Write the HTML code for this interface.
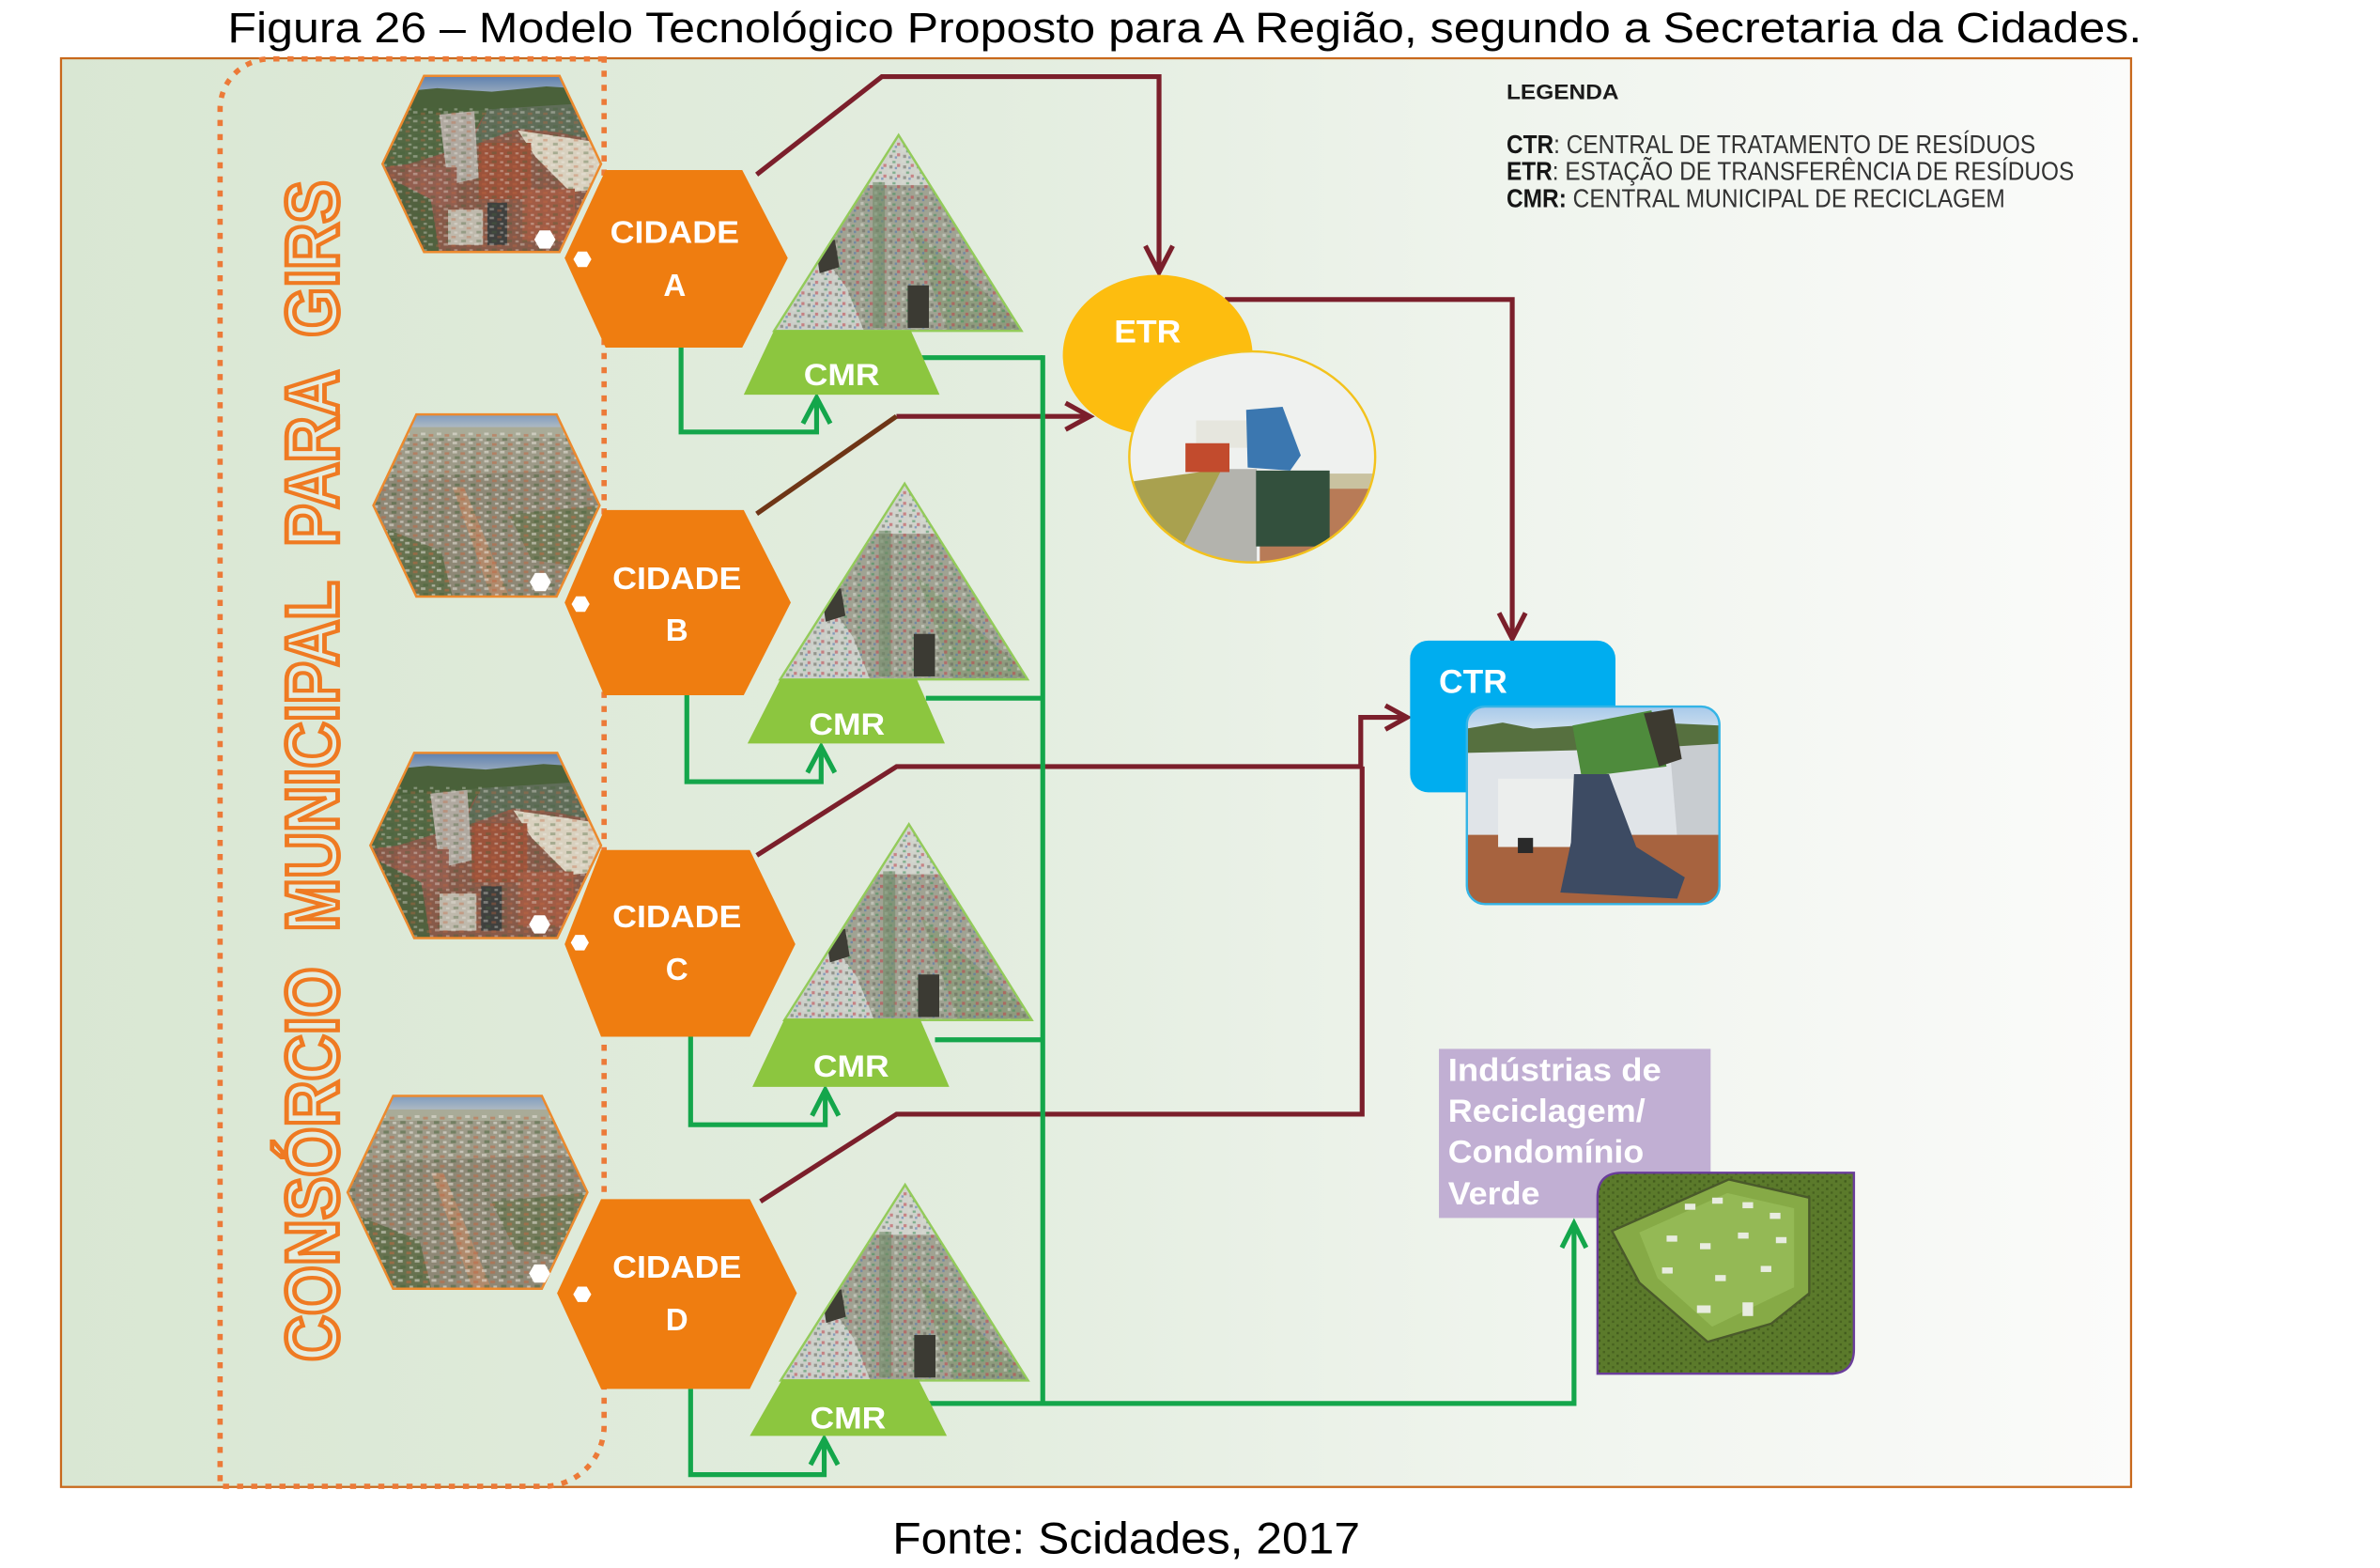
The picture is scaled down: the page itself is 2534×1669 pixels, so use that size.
<!DOCTYPE html>
<html>
<head>
<meta charset="utf-8">
<style>
html,body{margin:0;padding:0;background:#fff;width:2534px;height:1669px;overflow:hidden}
svg{display:block}
</style>
</head>
<body>
<svg xmlns="http://www.w3.org/2000/svg" width="2534" height="1669" viewBox="0 0 1568 1033" preserveAspectRatio="none" font-family="Liberation Sans, Arial, sans-serif">
<defs>
  <linearGradient id="bgg" x1="0" y1="0" x2="1" y2="0">
    <stop offset="0" stop-color="#d9e7d3"/>
    <stop offset="0.45" stop-color="#e3eddf"/>
    <stop offset="0.7" stop-color="#eff4ed"/>
    <stop offset="1" stop-color="#fbfbfa"/>
  </linearGradient>
  <linearGradient id="sky1" x1="0" y1="0" x2="0" y2="1">
    <stop offset="0" stop-color="#5d80b0"/><stop offset="1" stop-color="#a7b4bf"/>
  </linearGradient>
  <linearGradient id="sky2" x1="0" y1="0" x2="0" y2="1">
    <stop offset="0" stop-color="#7f9cc0"/><stop offset="1" stop-color="#b3bcc2"/>
  </linearGradient>
  <linearGradient id="skyc" x1="0" y1="0" x2="0" y2="1">
    <stop offset="0" stop-color="#a6c8ea"/><stop offset="1" stop-color="#d3e3ef"/>
  </linearGradient>
  <pattern id="spkC" width="7" height="5" patternUnits="userSpaceOnUse">
    <rect x="0" y="0" width="2" height="1.4" fill="#eeebe4"/>
    <rect x="3.5" y="0.8" width="2" height="1.4" fill="#c4663f"/>
    <rect x="1" y="3" width="2.2" height="1.5" fill="#46633a"/>
    <rect x="4.8" y="3.4" width="1.5" height="1.2" fill="#f2f0ea"/>
  </pattern>
  <pattern id="spkP" width="9" height="7" patternUnits="userSpaceOnUse">
    <rect x="0" y="0" width="2" height="2" fill="#d8dbd2"/>
    <rect x="3" y="1" width="2" height="1.5" fill="#3f8f5a"/>
    <rect x="6" y="3" width="2" height="2" fill="#c0404a"/>
    <rect x="1" y="4" width="2" height="2" fill="#66665b"/>
    <rect x="4.5" y="5" width="1.5" height="1.5" fill="#4a70b0"/>
  </pattern>
  <pattern id="spkG" width="6" height="5" patternUnits="userSpaceOnUse">
    <rect x="0" y="0" width="1.5" height="1.5" fill="#3b5219"/>
    <rect x="3" y="2.5" width="1.5" height="1.5" fill="#314814"/>
  </pattern>
  <clipPath id="hexc"><polygon points="19,0 81,0 100,50 81,100 19,100 0,50"/></clipPath>
  <clipPath id="triC"><polygon points="592,89 510,218 673,218"/></clipPath>
  <clipPath id="etrC"><ellipse cx="825" cy="301" rx="81" ry="69.5"/></clipPath>
  <clipPath id="ctrC"><rect x="966.4" y="465.5" width="166.4" height="130.1" rx="12"/></clipPath>
  <clipPath id="indC"><path d="M1068.5,772.6 H1221.4 V889 Q1221.4,905 1205.4,905 H1052.5 V788.6 Q1052.5,772.6 1068.5,772.6 Z"/></clipPath>

  <g id="city1">
    <g clip-path="url(#hexc)">
      <rect width="100" height="100" fill="#875a49"/>
      <rect width="100" height="12" fill="url(#sky1)"/>
      <polygon points="0,10 25,7 50,9 75,6 100,8 100,20 60,22 0,26" fill="#4a613a"/>
      <polygon points="0,24 48,19 38,40 12,50 0,52" fill="#536843"/>
      <polygon points="48,19 100,15 100,37 80,32 62,30 40,40" fill="#5f6d58"/>
      <polygon points="62,31 100,38 100,64 86,66 70,46" fill="#d9d1bf"/>
      <polygon points="26,22 42,20 44,58 30,62" fill="#b0a9a0"/>
      <rect x="44" y="38" width="24" height="32" fill="#9c533b"/>
      <rect x="12" y="52" width="22" height="22" fill="#935f50"/>
      <polygon points="0,56 22,70 26,100 0,100" fill="#52613f"/>
      <rect x="48" y="72" width="9" height="24" fill="#3f403e"/>
      <rect x="64" y="64" width="24" height="30" fill="#a25c45"/>
      <rect x="30" y="76" width="16" height="20" fill="#bfb9ac"/>
      <rect y="18" width="100" height="82" fill="url(#spkC)" opacity="0.35"/>
    </g>
    <polygon points="19,0 81,0 100,50 81,100 19,100 0,50" fill="none" stroke="#ec8a2e" stroke-width="2.5" vector-effect="non-scaling-stroke"/>
  </g>
  <g id="city2">
    <g clip-path="url(#hexc)">
      <rect width="100" height="100" fill="#8e8876"/>
      <rect width="100" height="8" fill="url(#sky2)"/>
      <rect y="7" width="100" height="6" fill="#a9ab98"/>
      <polygon points="0,13 100,13 100,30 0,35" fill="#9d9a88"/>
      <polygon points="0,60 30,75 35,100 0,100" fill="#66724f"/>
      <polygon points="60,55 100,50 100,85 70,80" fill="#747b5a"/>
      <polygon points="35,40 40,40 60,100 52,100" fill="#b08a6c"/>
      <rect y="10" width="100" height="90" fill="url(#spkC)" opacity="0.5"/>
    </g>
    <polygon points="19,0 81,0 100,50 81,100 19,100 0,50" fill="none" stroke="#ec8a2e" stroke-width="2.5" vector-effect="non-scaling-stroke"/>
  </g>
  <g id="pyr">
    <g clip-path="url(#triC)">
      <rect x="505" y="85" width="175" height="140" fill="#a0a393"/>
      <polygon points="592,89 612,122 572,122" fill="#d0d3cc"/>
      <polygon points="505,225 540,165 558,190 572,225" fill="#cbcfc9"/>
      <polygon points="600,150 680,220 625,220" fill="#8e9c7e"/>
      <rect x="505" y="85" width="175" height="140" fill="url(#spkP)" opacity="0.55"/>
      <polygon points="537,160 550,158 553,176 540,180" fill="#3e3d35"/>
      <rect x="598" y="188" width="14" height="28" fill="#3b3a33"/>
      <rect x="575" y="120" width="8" height="96" fill="#6f8a68" opacity="0.6"/>
    </g>
    <polygon points="592,89 510,218 673,218" fill="none" stroke="#93cb5a" stroke-width="1.5"/>
  </g>
  <polygon id="sh" points="-3.5,-6 3.5,-6 7,0 3.5,6 -3.5,6 -7,0" fill="#ffffff"/>
</defs>

<rect width="1568" height="1033" fill="#ffffff"/>

<!-- frame -->
<rect x="40.2" y="38.4" width="1363.8" height="941.2" fill="url(#bgg)" stroke="#c8691c" stroke-width="1.4"/>

<!-- dotted consortium box -->
<path d="M398,38.8 L178,38.8 A33,33 0 0 0 145,71.8 L145,979.2 L358,979.2 A40,40 0 0 0 398,939.2 Z" fill="none" stroke="#ec7a38" stroke-width="3.5" stroke-dasharray="4 5.3"/>

<!-- vertical text -->
<text transform="translate(222.5,508) rotate(-90)" text-anchor="middle" font-size="49" font-weight="bold" fill="#e4ede0" stroke="#ef7a22" stroke-width="3" textLength="778" lengthAdjust="spacingAndGlyphs" style="white-space:pre">CONSÓRCIO  MUNICIPAL  PARA  GIRS</text>

<!-- city photos -->
<use href="#city1" transform="translate(252,50) scale(1.44,1.16)"/>
<use href="#city2" transform="translate(246,273) scale(1.49,1.20)"/>
<use href="#city1" transform="translate(244,496) scale(1.52,1.22)"/>
<use href="#city2" transform="translate(229,722) scale(1.58,1.27)"/>

<!-- red/brown connectors -->
<g fill="none" stroke="#7b1f2b" stroke-width="3.2" stroke-linejoin="miter">
  <path d="M498.5,115 L581,50.5 H763.6 V177"/>
  <path d="M754.6,162 L763.6,179.4 L772.6,162"/>
  <path d="M590.6,274.3 H716"/>
  <path d="M702,265.5 L718,274.3 L702,283"/>
  <path d="M498.6,563.5 L590.7,505 H896.5 V472.6 H925"/>
  <path d="M912.7,464.8 L927,472.6 L912.7,480.5"/>
  <path d="M501,791.5 L590.7,734 H897.4 V505"/>
  <path d="M807,197.3 H996.3 V419"/>
  <path d="M987.6,403.8 L996.3,420.8 L1005,403.8"/>
</g>
<path d="M498.5,338.5 L590.6,274.3" fill="none" stroke="#6e3516" stroke-width="3.2"/>

<!-- cidade hexes -->
<g fill="#ef7d10">
  <polygon points="399,112 489,112 519,170 489,229 399,229 372,170"/>
  <polygon points="398,336 490,336 521,397 490,458 398,458 372,397"/>
  <polygon points="396,560 494,560 524,622 494,683 396,683 372,622"/>
  <polygon points="396,790 494,790 525,852 494,915 396,915 367,852"/>
</g>
<g fill="#ffffff" font-weight="bold" font-size="20.5" text-anchor="middle">
  <text x="444.5" y="160" textLength="85" lengthAdjust="spacingAndGlyphs">CIDADE</text>
  <text x="444.5" y="195">A</text>
  <text x="446" y="388" textLength="85" lengthAdjust="spacingAndGlyphs">CIDADE</text>
  <text x="446" y="422">B</text>
  <text x="446" y="611" textLength="85" lengthAdjust="spacingAndGlyphs">CIDADE</text>
  <text x="446" y="645.6">C</text>
  <text x="446" y="841.8" textLength="85" lengthAdjust="spacingAndGlyphs">CIDADE</text>
  <text x="446" y="876.4">D</text>
</g>

<!-- small white hexes -->
<use href="#sh" transform="translate(359,157.8)"/>
<use href="#sh" transform="translate(383.7,170.8) scale(0.85)"/>
<use href="#sh" transform="translate(356,383.5)"/>
<use href="#sh" transform="translate(382.5,398) scale(0.85)"/>
<use href="#sh" transform="translate(355.5,609)"/>
<use href="#sh" transform="translate(382,621) scale(0.85)"/>
<use href="#sh" transform="translate(355.5,839)"/>
<use href="#sh" transform="translate(383.6,852.7) scale(0.85)"/>

<!-- pyramids -->
<use href="#pyr"/>
<use href="#pyr" transform="translate(4,229.6)"/>
<use href="#pyr" transform="translate(6.8,454)"/>
<use href="#pyr" transform="translate(4.3,691.5)"/>

<!-- green connectors -->
<g fill="none" stroke="#14a64b" stroke-width="3.2" stroke-linejoin="miter">
  <path d="M448.7,229 V284.6 H538 V264"/>
  <path d="M529,279 L538,262 L547,279"/>
  <path d="M452.5,458 V515 H541 V494"/>
  <path d="M532,509 L541,492 L550,509"/>
  <path d="M455,683 V741 H543.7 V720"/>
  <path d="M535,735 L543.7,718 L552.5,735"/>
  <path d="M455,915 V971.5 H543 V950"/>
  <path d="M534,965 L543,948 L552,965"/>
  <path d="M603,235.6 H687"/>
  <path d="M610,460 H687"/>
  <path d="M616,685 H687"/>
  <path d="M612,924.6 H1037 V809"/>
  <path d="M1029,822 L1037,806 L1045,822"/>
  <path d="M687,234 V926"/>
</g>

<!-- CMR trapezoids -->
<g fill="#8cc63f">
  <polygon points="510,217.6 600,217.6 619,260 490,260"/>
  <polygon points="514,447.6 604,447.6 622.5,489.8 492.5,489.8"/>
  <polygon points="517,671 606,671 625.4,716 495.7,716"/>
  <polygon points="515.4,908.7 605,908.7 623.8,946 494,946"/>
</g>
<g fill="#ffffff" font-weight="bold" font-size="20" text-anchor="middle">
  <text x="554.5" y="253.7" textLength="50" lengthAdjust="spacingAndGlyphs">CMR</text>
  <text x="558" y="484" textLength="50" lengthAdjust="spacingAndGlyphs">CMR</text>
  <text x="560.8" y="709.4" textLength="50" lengthAdjust="spacingAndGlyphs">CMR</text>
  <text x="558.7" y="941" textLength="50" lengthAdjust="spacingAndGlyphs">CMR</text>
</g>

<!-- ETR -->
<ellipse cx="762.7" cy="234" rx="62.5" ry="53" fill="#fdbd0f"/>
<text x="756" y="225.7" fill="#ffffff" font-weight="bold" font-size="21" text-anchor="middle" textLength="44" lengthAdjust="spacingAndGlyphs">ETR</text>
<g clip-path="url(#etrC)">
  <rect x="740" y="228" width="170" height="146" fill="#eff1ef"/>
  <rect x="830" y="312" width="80" height="14" fill="#c9c2a0"/>
  <rect x="830" y="322" width="80" height="52" fill="#b87b57"/>
  <polygon points="740,318 805,309 775,374 740,374" fill="#a9a14f"/>
  <polygon points="805,309 828,309 828,374 772,374" fill="#b3b3ad"/>
  <rect x="827.5" y="310" width="48.5" height="50" fill="#33503d"/>
  <rect x="788" y="277" width="35" height="18" fill="#e6e6de"/>
  <polygon points="821,270 845,268 857,300 850,310 822,308" fill="#3b77b0"/>
  <rect x="781" y="292" width="29" height="19" fill="#c24b2d"/>
</g>
<ellipse cx="825" cy="301" rx="81" ry="69.5" fill="none" stroke="#f3c21c" stroke-width="1.5"/>

<!-- CTR -->
<rect x="929" y="422" width="135.3" height="100" rx="12" fill="#00adef"/>
<text x="948" y="456.4" fill="#ffffff" font-weight="bold" font-size="22" textLength="45" lengthAdjust="spacingAndGlyphs">CTR</text>
<g clip-path="url(#ctrC)">
  <rect x="966" y="465" width="168" height="131" fill="#e0e4e8"/>
  <rect x="966" y="465" width="168" height="18" fill="url(#skyc)"/>
  <polygon points="966,480 990,476 1010,480 1040,478 1060,482 1090,476 1133,478 1133,492 966,496" fill="#56703f"/>
  <polygon points="1100,492 1133,490 1133,555 1105,552" fill="#c8ccd0"/>
  <rect x="966" y="550" width="168" height="46" fill="#a7633f"/>
  <polygon points="1036,478 1088,468 1098,505 1042,512" fill="#4e8b3c"/>
  <polygon points="1083,470 1102,467 1108,500 1093,505" fill="#3d3a30"/>
  <rect x="987" y="513" width="50" height="45" fill="#eceeed"/>
  <polygon points="1037,510 1060,510 1078,558 1110,578 1105,592 1028,588 1035,555" fill="#3d4b63"/>
  <rect x="1000" y="552" width="10" height="10" fill="#2a2a2a"/>
</g>
<rect x="966.4" y="465.5" width="166.4" height="130.1" rx="12" fill="none" stroke="#34b4e6" stroke-width="1.5"/>

<!-- Industries -->
<rect x="948" y="691" width="179" height="111.4" fill="#c1afd3"/>
<g fill="#ffffff" font-weight="bold" font-size="21">
  <text x="954" y="712" textLength="140.5" lengthAdjust="spacingAndGlyphs">Indústrias de</text>
  <text x="954" y="739" textLength="130" lengthAdjust="spacingAndGlyphs">Reciclagem/</text>
  <text x="954" y="765.8" textLength="129" lengthAdjust="spacingAndGlyphs">Condomínio</text>
  <text x="954" y="793.4" textLength="60.5" lengthAdjust="spacingAndGlyphs">Verde</text>
</g>
<g clip-path="url(#indC)">
  <rect x="1050" y="770" width="175" height="140" fill="#5b7a2b"/>
  <rect x="1050" y="770" width="175" height="140" fill="url(#spkG)" opacity="0.6"/>
  <polygon points="1062,811 1139,777 1192,789 1192,852 1167,872 1125,884 1080,845" fill="#86aa46" stroke="#4a5a2a" stroke-width="1.5"/>
  <polygon points="1080,812 1138,786 1182,796 1182,848 1128,874 1092,842" fill="#94b955"/>
  <g fill="#e8ece0">
    <rect x="1110" y="793" width="7" height="4"/><rect x="1128" y="789" width="7" height="4"/>
    <rect x="1148" y="792" width="7" height="4"/><rect x="1166" y="799" width="7" height="4"/>
    <rect x="1098" y="814" width="7" height="4"/><rect x="1120" y="819" width="7" height="4"/>
    <rect x="1145" y="812" width="7" height="4"/><rect x="1170" y="815" width="7" height="4"/>
    <rect x="1095" y="835" width="7" height="4"/><rect x="1130" y="840" width="7" height="4"/>
    <rect x="1160" y="834" width="7" height="4"/><rect x="1118" y="860" width="9" height="5"/>
    <rect x="1148" y="858" width="7" height="9"/>
  </g>
</g>
<path d="M1068.5,772.6 H1221.4 V889 Q1221.4,905 1205.4,905 H1052.5 V788.6 Q1052.5,772.6 1068.5,772.6 Z" fill="none" stroke="#6a3d9a" stroke-width="1.5"/>

<!-- legend -->
<text x="992.5" y="65.4" font-size="14" font-weight="bold" fill="#1a1a1a" textLength="74" lengthAdjust="spacingAndGlyphs">LEGENDA</text>
<g font-size="17" fill="#333333" style="white-space:pre">
  <text x="992.5" y="101" textLength="348.5" lengthAdjust="spacingAndGlyphs"><tspan font-weight="bold" fill="#151515">CTR</tspan>: CENTRAL  DE TRATAMENTO  DE RESÍDUOS</text>
  <text x="992.5" y="118.6" textLength="374" lengthAdjust="spacingAndGlyphs"><tspan font-weight="bold" fill="#151515">ETR</tspan>: ESTAÇÃO DE TRANSFERÊNCIA  DE RESÍDUOS</text>
  <text x="992.5" y="136.6" textLength="328.5" lengthAdjust="spacingAndGlyphs"><tspan font-weight="bold" fill="#151515">CMR:</tspan> CENTRAL  MUNICIPAL  DE RECICLAGEM</text>
</g>

<!-- title and source -->
<text x="150" y="28" font-size="28" fill="#000" textLength="1261" lengthAdjust="spacingAndGlyphs">Figura 26 – Modelo Tecnológico Proposto para A Região, segundo a Secretaria da Cidades.</text>
<text x="588" y="1023.5" font-size="29" fill="#000" textLength="308" lengthAdjust="spacingAndGlyphs">Fonte: Scidades, 2017</text>
</svg>
</body>
</html>
